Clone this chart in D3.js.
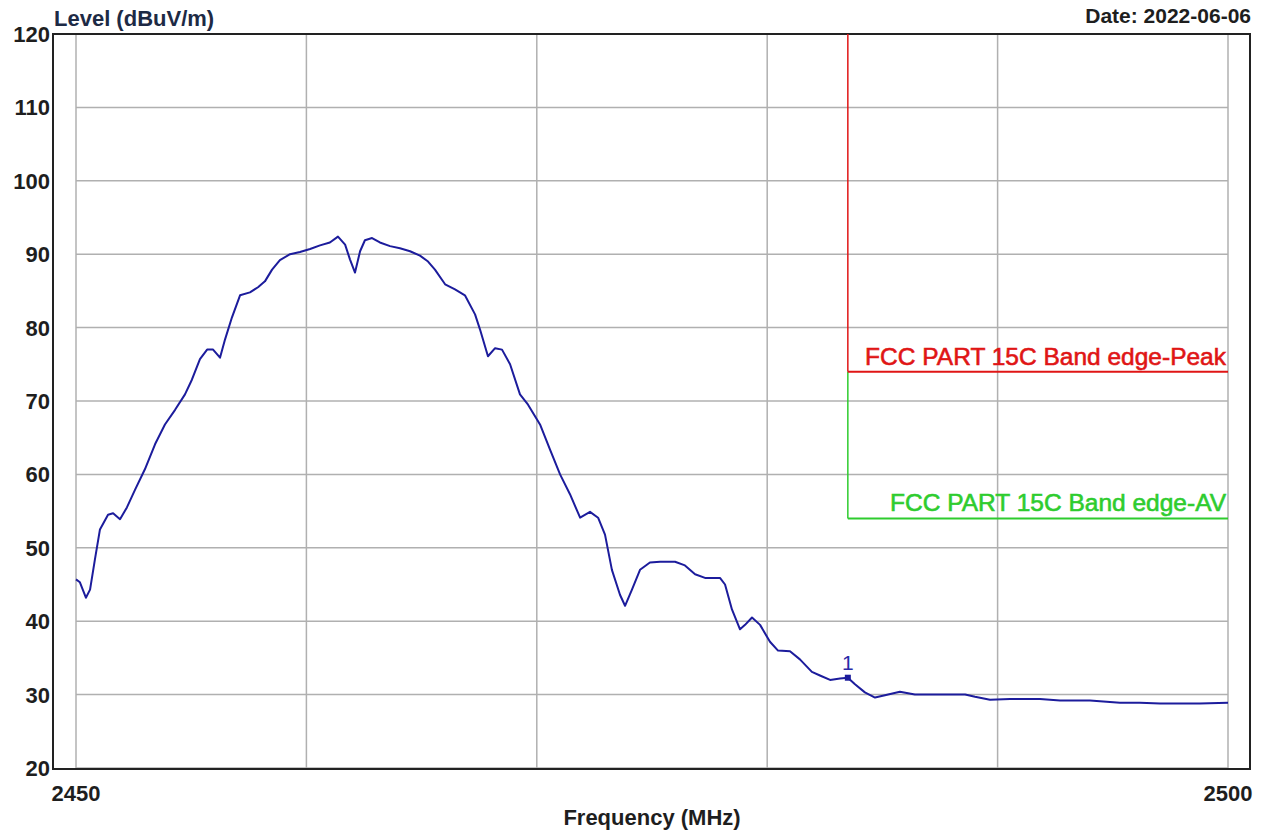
<!DOCTYPE html>
<html>
<head>
<meta charset="utf-8">
<script src="https://cdn.jsdelivr.net/npm/d3@7/dist/d3.min.js"></script>
<style>
  html, body { margin: 0; padding: 0; background: #fff; }
  svg { display: block; }
  text { font-family: "Liberation Sans", Arial, sans-serif; }
</style>
</head>
<body>
<svg id="chart" width="1266" height="834"></svg>
<script>
// ---- data ----
const freqs = [2450.00, 2450.17, 2450.43, 2450.61, 2450.82, 2451.04, 2451.39, 2451.61, 2451.91, 2452.21,
  2452.56, 2452.99, 2453.43, 2453.86, 2454.30, 2454.73, 2455.03, 2455.38, 2455.69, 2455.95,
  2456.25, 2456.47, 2456.77, 2457.12, 2457.55, 2457.90, 2458.20, 2458.51, 2458.85, 2459.29,
  2459.72, 2460.16, 2460.59, 2461.02, 2461.37, 2461.68, 2461.89, 2462.11, 2462.33, 2462.54,
  2462.85, 2463.19, 2463.63, 2464.06, 2464.50, 2464.93, 2465.28, 2465.58, 2466.02, 2466.45,
  2466.88, 2467.32, 2467.53, 2467.88, 2468.19, 2468.49, 2468.84, 2469.27, 2469.62, 2470.14,
  2470.57, 2471.01, 2471.44, 2471.88, 2472.31, 2472.66, 2472.96, 2473.26, 2473.61, 2473.83,
  2474.13, 2474.48, 2474.91, 2475.35, 2476.00, 2476.43, 2476.87, 2477.30, 2477.95, 2478.17,
  2478.47, 2478.82, 2479.04, 2479.34, 2479.69, 2480.12, 2480.47, 2480.99, 2481.42, 2481.94,
  2482.29, 2482.73, 2483.16, 2483.50, 2483.81, 2484.24, 2484.68, 2485.11, 2485.76, 2486.41,
  2487.50, 2488.59, 2489.02, 2489.67, 2490.54, 2491.84, 2492.71, 2494.01, 2495.31, 2496.18,
  2497.05, 2498.78, 2500.00];
const levels = [45.7, 45.3, 43.2, 44.3, 48.4, 52.5, 54.5, 54.7, 53.9, 55.5,
  57.9, 60.7, 64.1, 66.8, 68.8, 70.9, 72.9, 75.7, 77.0, 77.0,
  75.9, 78.4, 81.4, 84.4, 84.8, 85.5, 86.3, 87.9, 89.2, 90.0,
  90.3, 90.7, 91.2, 91.6, 92.4, 91.3, 89.3, 87.5, 90.4, 91.9,
  92.2, 91.6, 91.1, 90.8, 90.4, 89.8, 89.0, 87.9, 85.9, 85.2,
  84.4, 81.8, 79.8, 76.1, 77.2, 77.0, 75.0, 70.9, 69.5, 66.8,
  63.4, 60.0, 57.3, 54.1, 54.9, 54.1, 51.8, 47.0, 43.6, 42.1,
  44.3, 47.0, 48.0, 48.1, 48.1, 47.6, 46.4, 45.9, 45.9, 45.0,
  41.6, 38.9, 39.5, 40.5, 39.5, 37.2, 36.0, 35.9, 34.8, 33.1,
  32.6, 32.0, 32.2, 32.3, 31.4, 30.3, 29.6, 29.9, 30.4, 30.0,
  30.0, 30.0, 29.7, 29.3, 29.4, 29.4, 29.2, 29.2, 28.9, 28.9,
  28.8, 28.8, 28.9];
const xTicks = [2450, 2460, 2470, 2480, 2490, 2500];
const xTickLabels = ["2450", "", "", "", "", "2500"];
const yTicks = [20, 30, 40, 50, 60, 70, 80, 90, 100, 110, 120];
const limitNames = ["FCC PART 15C Band edge-Peak", "FCC PART 15C Band edge-AV"];
const limitValues = [74, 54];
const limitStart = 2483.5;
const markerFreqs = [2483.5];
const markerLevels = [32.3];
const markerLabels = ["1"];

// ---- layout ----
const svg = d3.select("#chart");
const x = d3.scaleLinear().domain([2450, 2500]).range([76, 1228]);
const y = d3.scaleLinear().domain([20, 120]).range([768, 34]);
const gridColor = "#b0b0b0";
const textColor = "#1e1e1e";
const font = 22;

// grid
svg.append("g").selectAll("line").data(xTicks).join("line")
  .attr("x1", d => x(d)).attr("x2", d => x(d))
  .attr("y1", y(120)).attr("y2", y(20))
  .attr("stroke", gridColor).attr("stroke-width", 1.5);
svg.append("g").selectAll("line").data(yTicks).join("line")
  .attr("x1", x(2450)).attr("x2", x(2500))
  .attr("y1", d => y(d)).attr("y2", d => y(d))
  .attr("stroke", gridColor).attr("stroke-width", 1.5);

// frame
svg.append("rect")
  .attr("x", 53).attr("y", 34).attr("width", 1250 - 53).attr("height", 769 - 34)
  .attr("fill", "none").attr("stroke", "#222").attr("stroke-width", 2);

// limit lines
const limitColors = ["#e01515", "#2ecc2e"];
svg.append("line")
  .attr("x1", x(limitStart)).attr("x2", x(limitStart))
  .attr("y1", y(120)).attr("y2", y(limitValues[0]))
  .attr("stroke", limitColors[0]).attr("stroke-width", 1.5);
svg.append("line")
  .attr("x1", x(limitStart)).attr("x2", x(limitStart))
  .attr("y1", y(limitValues[0])).attr("y2", y(limitValues[1]))
  .attr("stroke", limitColors[1]).attr("stroke-width", 1.5);
limitValues.forEach((v, i) => {
  svg.append("line")
    .attr("x1", x(limitStart)).attr("x2", x(2500))
    .attr("y1", y(v)).attr("y2", y(v))
    .attr("stroke", limitColors[i]).attr("stroke-width", 2);
  svg.append("text")
    .attr("x", x(2500) - 2).attr("y", y(v) - 7)
    .attr("text-anchor", "end")
    .attr("font-size", 24.5)
    .attr("fill", limitColors[i])
    .attr("stroke", limitColors[i]).attr("stroke-width", 0.6)
    .text(limitNames[i]);
});

// trace
const pts = freqs.map((f, i) => [f, levels[i]]);
svg.append("path")
  .datum(pts)
  .attr("fill", "none")
  .attr("stroke", "#1c1c9c")
  .attr("stroke-width", 2)
  .attr("stroke-linejoin", "round")
  .attr("d", d3.line().x(d => x(d[0])).y(d => y(d[1])));

// marker
markerFreqs.forEach((f, i) => {
  svg.append("rect")
    .attr("x", x(f) - 3).attr("y", y(markerLevels[i]) - 3)
    .attr("width", 6).attr("height", 6).attr("fill", "#1c1c9c");
  svg.append("text")
    .attr("x", x(f)).attr("y", y(markerLevels[i]) - 8)
    .attr("text-anchor", "middle")
    .attr("font-size", 21).attr("fill", "#2a2aa8")
    .text(markerLabels[i]);
});

// y tick labels
svg.append("g").selectAll("text").data(yTicks).join("text")
  .attr("x", 50).attr("y", d => y(d) + 8)
  .attr("text-anchor", "end")
  .attr("font-size", font).attr("font-weight", "bold").attr("fill", textColor)
  .text(d => d);

// x tick labels
svg.append("g").selectAll("text").data(xTicks).join("text")
  .attr("x", d => x(d)).attr("y", 801)
  .attr("text-anchor", "middle")
  .attr("font-size", font).attr("font-weight", "bold").attr("fill", textColor)
  .text((d, i) => xTickLabels[i]);

// titles
svg.append("text").attr("x", 54).attr("y", 26)
  .attr("font-size", font).attr("font-weight", "bold").attr("fill", "#1d2a45")
  .text("Level (dBuV/m)");
svg.append("text").attr("x", 1251).attr("y", 23).attr("text-anchor", "end")
  .attr("font-size", 21).attr("font-weight", "bold").attr("fill", textColor)
  .text("Date: 2022-06-06");
svg.append("text").attr("x", 652).attr("y", 825).attr("text-anchor", "middle")
  .attr("font-size", font).attr("font-weight", "bold").attr("fill", textColor)
  .text("Frequency (MHz)");
</script>
</body>
</html>
